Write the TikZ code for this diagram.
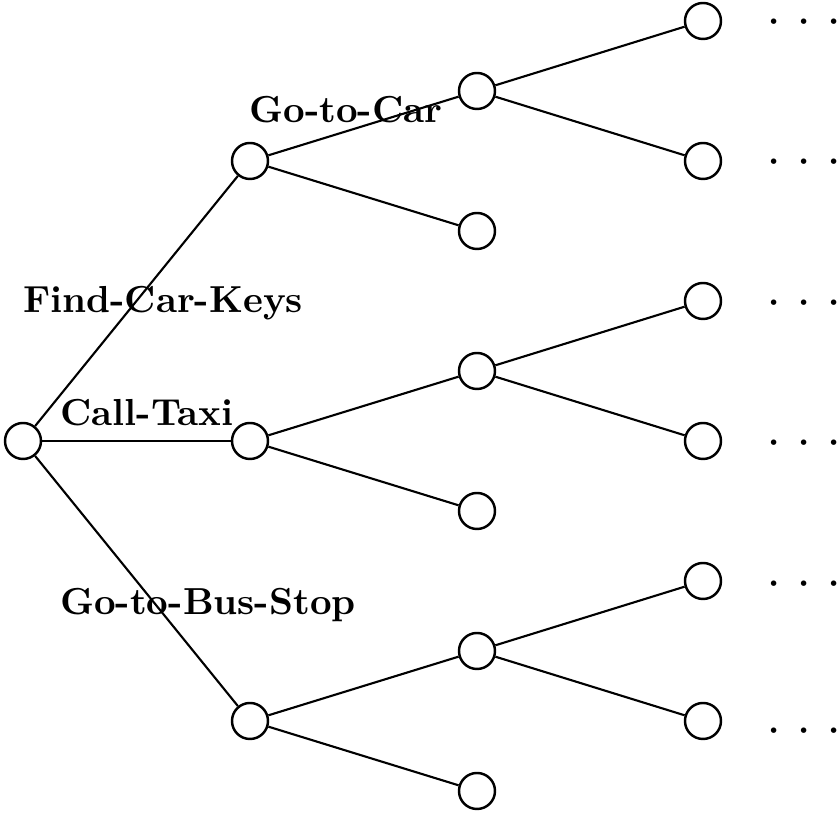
\documentclass[tikz,border=0pt]{standalone}
\usepackage{amsmath,amssymb}
\usepackage{xcolor}
\usepackage{tikz}
\usetikzlibrary{calc}

\newcommand{\leafdots}{{\boldmath$\cdot$\hspace{5.44pt}$\cdot$\hspace{5.44pt}$\cdot$}}

\begin{document}
\begin{tikzpicture}[x=0.01cm,y=-0.01cm,line join=round,
    st/.style={circle,draw,line width=0.7pt,minimum size=0.36cm,inner sep=0pt},
    act/.style={font=\fontsize{10.7}{13}\selectfont\bfseries,anchor=base,inner sep=0pt},
    more/.style={anchor=base,inner sep=0pt}]
  \useasboundingbox (0,0) rectangle (838,813);
  % states
  \node[st] (R) at (23,441) {};
  \node[st] (A1) at (250,161) {};
  \node[st] (A2) at (250,441) {};
  \node[st] (A3) at (250,721) {};
  \node[st] (B1) at (477,91) {};
  \node[st] (B2) at (477,231) {};
  \node[st] (B3) at (477,371) {};
  \node[st] (B4) at (477,511) {};
  \node[st] (B5) at (477,651) {};
  \node[st] (B6) at (477,791) {};
  \node[st] (C1) at (703,21) {};
  \node[st] (C2) at (703,161) {};
  \node[st] (C3) at (703,301) {};
  \node[st] (C4) at (703,441) {};
  \node[st] (C5) at (703,581) {};
  \node[st] (C6) at (703,721) {};
  % edges
  \draw[line width=0.6pt] (R) -- (A1);
  \draw[line width=0.6pt] (R) -- (A2);
  \draw[line width=0.6pt] (R) -- (A3);
  \draw[line width=0.6pt] (A1) -- (B1);
  \draw[line width=0.6pt] (A1) -- (B2);
  \draw[line width=0.6pt] (A2) -- (B3);
  \draw[line width=0.6pt] (A2) -- (B4);
  \draw[line width=0.6pt] (A3) -- (B5);
  \draw[line width=0.6pt] (A3) -- (B6);
  \draw[line width=0.6pt] (B1) -- (C1);
  \draw[line width=0.6pt] (B1) -- (C2);
  \draw[line width=0.6pt] (B3) -- (C3);
  \draw[line width=0.6pt] (B3) -- (C4);
  \draw[line width=0.6pt] (B5) -- (C5);
  \draw[line width=0.6pt] (B5) -- (C6);
  % action labels
  \node[act] (carkeys) at (163,313) {Find-Car-Keys};
  \node[act] (taxi) at (147,426) {Call-Taxi};
  \node[act] (busstop) at (208,615) {Go-to-Bus-Stop};
  \node[act] (tocar) at (346,123) {Go-to-Car};
  % continuations
  \node[more] (D1) at (804,31) {\leafdots};
  \node[more] (D2) at (804,171) {\leafdots};
  \node[more] (D3) at (804,312) {\leafdots};
  \node[more] (D4) at (804,452) {\leafdots};
  \node[more] (D5) at (804,593) {\leafdots};
  \node[more] (D6) at (804,740) {\leafdots};
\end{tikzpicture}
\end{document}
